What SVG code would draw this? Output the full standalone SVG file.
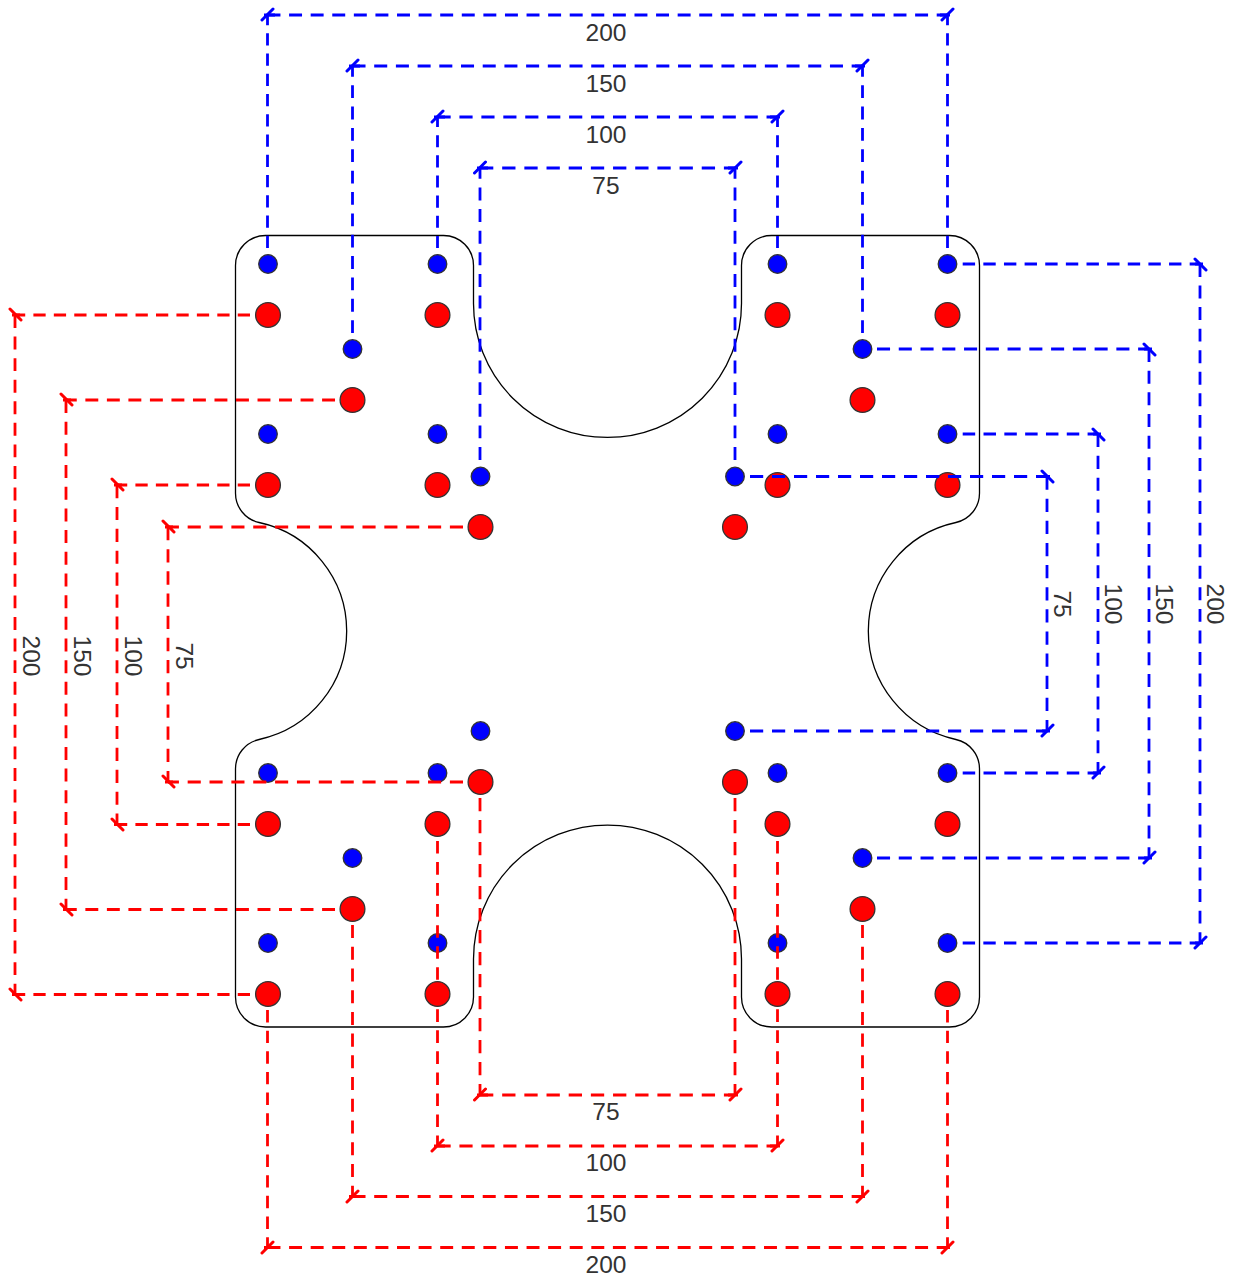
<svg xmlns="http://www.w3.org/2000/svg" width="1236" height="1277" viewBox="0 0 1236 1277">
<style>
.o{fill:none;stroke:#000;stroke-width:1.3}
.h{stroke:#333;stroke-width:1.3}
.b{fill:#00f}.r{fill:#f00}
.d{fill:none;stroke-width:2.8;stroke-dasharray:.6 .4}
.t{fill:none;stroke-width:3;stroke-linecap:round}
.s{fill:none;stroke-width:2.8}
.bl{stroke:#00f}.rd{stroke:#f00}
text{font-family:"Liberation Sans",Arial,sans-serif;font-size:24.5px;fill:#333;text-anchor:middle;dominant-baseline:central}
</style>
<rect width="1236" height="1277" fill="#fff"/>
<g id="outline"><path class="o" d="M235.5 265.5A30 30 0 0 1 265.5 235.5H443.5A30 30 0 0 1 473.5 265.5V303.5A134 134 0 0 0 741.5 303.5V265.5A30 30 0 0 1 771.5 235.5H949.5A30 30 0 0 1 979.5 265.5V493.2A30 30 0 0 1 955.9 522.5A111 111 0 0 0 955.9 739.5A30 30 0 0 1 979.5 768.8V997A30 30 0 0 1 949.5 1027H771.5A30 30 0 0 1 741.5 997V959A134 134 0 0 0 473.5 959V997A30 30 0 0 1 443.5 1027H265.5A30 30 0 0 1 235.5 997V768.8A30 30 0 0 1 259.1 739.5A111 111 0 0 0 259.1 522.5A30 30 0 0 1 235.5 493.2Z"/></g>
<g id="holes-blue">
<circle class="h b" cx="268" cy="264" r="9.3"/><circle class="h b" cx="437.5" cy="264" r="9.3"/><circle class="h b" cx="777.5" cy="264" r="9.3"/><circle class="h b" cx="947.5" cy="264" r="9.3"/>
<circle class="h b" cx="352.5" cy="349" r="9.3"/><circle class="h b" cx="862.5" cy="349" r="9.3"/>
<circle class="h b" cx="268" cy="434" r="9.3"/><circle class="h b" cx="437.5" cy="434" r="9.3"/><circle class="h b" cx="777.5" cy="434" r="9.3"/><circle class="h b" cx="947.5" cy="434" r="9.3"/>
<circle class="h b" cx="480.5" cy="476.5" r="9.3"/><circle class="h b" cx="735" cy="476.5" r="9.3"/>
<circle class="h b" cx="480.5" cy="731" r="9.3"/><circle class="h b" cx="735" cy="731" r="9.3"/>
<circle class="h b" cx="268" cy="773" r="9.3"/><circle class="h b" cx="437.5" cy="773" r="9.3"/><circle class="h b" cx="777.5" cy="773" r="9.3"/><circle class="h b" cx="947.5" cy="773" r="9.3"/>
<circle class="h b" cx="352.5" cy="858" r="9.3"/><circle class="h b" cx="862.5" cy="858" r="9.3"/>
<circle class="h b" cx="268" cy="943" r="9.3"/><circle class="h b" cx="437.5" cy="943" r="9.3"/><circle class="h b" cx="777.5" cy="943" r="9.3"/><circle class="h b" cx="947.5" cy="943" r="9.3"/>
</g>
<g id="holes-red">
<circle class="h r" cx="268" cy="315" r="12.4"/><circle class="h r" cx="437.5" cy="315" r="12.4"/><circle class="h r" cx="777.5" cy="315" r="12.4"/><circle class="h r" cx="947.5" cy="315" r="12.4"/>
<circle class="h r" cx="352.5" cy="400" r="12.4"/><circle class="h r" cx="862.5" cy="400" r="12.4"/>
<circle class="h r" cx="268" cy="485" r="12.4"/><circle class="h r" cx="437.5" cy="485" r="12.4"/><circle class="h r" cx="777.5" cy="485" r="12.4"/><circle class="h r" cx="947.5" cy="485" r="12.4"/>
<circle class="h r" cx="480.5" cy="527" r="12.4"/><circle class="h r" cx="735" cy="527" r="12.4"/>
<circle class="h r" cx="480.5" cy="782" r="12.4"/><circle class="h r" cx="735" cy="782" r="12.4"/>
<circle class="h r" cx="268" cy="824" r="12.4"/><circle class="h r" cx="437.5" cy="824" r="12.4"/><circle class="h r" cx="777.5" cy="824" r="12.4"/><circle class="h r" cx="947.5" cy="824" r="12.4"/>
<circle class="h r" cx="352.5" cy="909" r="12.4"/><circle class="h r" cx="862.5" cy="909" r="12.4"/>
<circle class="h r" cx="268" cy="994" r="12.4"/><circle class="h r" cx="437.5" cy="994" r="12.4"/><circle class="h r" cx="777.5" cy="994" r="12.4"/><circle class="h r" cx="947.5" cy="994" r="12.4"/>
</g>
<g id="connectors">
<g class="bl">
<path class="d bl" pathLength="11.5" d="M267.500 248V15"/><path class="d bl" pathLength="12.5" d="M352.500 333V66"/><path class="d bl" pathLength="6.5" d="M437.500 248V117"/><path class="d bl" pathLength="13.5" d="M480 460V168"/>
<path class="d bl" pathLength="13.5" d="M735 460V168"/><path class="d bl" pathLength="6.5" d="M777.500 248V117"/><path class="d bl" pathLength="12.5" d="M862.500 333V66"/><path class="d bl" pathLength="11.5" d="M947.500 248V15"/>
<path class="d bl" pathLength="31.5" d="M267.500 15H947.500"/><path class="d bl" pathLength="23.5" d="M352.500 66H862.500"/><path class="d bl" pathLength="15.5" d="M437.500 117H777.500"/><path class="d bl" pathLength="11.5" d="M480 168H735"/>
<path class="d bl" pathLength="11.5" d="M962.700 264H1200"/><path class="d bl" pathLength="12.5" d="M877 349H1149"/><path class="d bl" pathLength="6.500" d="M962.700 434H1098"/><path class="d bl" pathLength="13.5" d="M750 476.500H1047"/>
<path class="d bl" pathLength="13.5" d="M750 731H1047"/><path class="d bl" pathLength="6.500" d="M962.700 773H1098"/><path class="d bl" pathLength="12.5" d="M877 858H1149"/><path class="d bl" pathLength="11.5" d="M962.700 943H1200"/>
<path class="d bl" pathLength="31.5" d="M1200 264V943"/><path class="d bl" pathLength="23.5" d="M1149 349V858"/><path class="d bl" pathLength="15.5" d="M1098 434V773"/><path class="d bl" pathLength="11.5" d="M1047 476.500V731"/>
</g>
<g class="rd">
<path class="d rd" pathLength="11.5" d="M250 315H15"/><path class="d rd" pathLength="12.5" d="M335 400H66"/><path class="d rd" pathLength="6.5" d="M250 485H117"/><path class="d rd" pathLength="13.5" d="M463 527H168"/>
<path class="d rd" pathLength="13.5" d="M463 782H168"/><path class="d rd" pathLength="6.5" d="M250 824.500H117"/><path class="d rd" pathLength="12.5" d="M335 909.500H66"/><path class="d rd" pathLength="11.5" d="M250 994.500H15"/>
<path class="d rd" pathLength="31.5" d="M15 315V994.500"/><path class="d rd" pathLength="23.5" d="M66 400V909.500"/><path class="d rd" pathLength="15.5" d="M117 485V824.500"/><path class="d rd" pathLength="11.5" d="M168 527V782"/>
<path class="d rd" pathLength="11.5" d="M267.500 1010V1247.500"/><path class="d rd" pathLength="12.5" d="M352.500 925V1196.500"/><path class="d rd" pathLength="14.5" d="M437.500 841V1146"/><path class="d rd" pathLength="13.5" d="M480 798V1095"/>
<path class="d rd" pathLength="13.5" d="M735 798V1095"/><path class="d rd" pathLength="14.5" d="M777.500 841V1146"/><path class="d rd" pathLength="12.5" d="M862.500 925V1196.500"/><path class="d rd" pathLength="11.5" d="M947.500 1010V1247.500"/>
<path class="d rd" pathLength="31.5" d="M267.500 1247.500H947.500"/><path class="d rd" pathLength="23.5" d="M352.500 1196.500H862.500"/><path class="d rd" pathLength="15.5" d="M437.500 1146H777.500"/><path class="d rd" pathLength="11.5" d="M480 1095H735"/>
</g>
<path class="t bl" d="M262 20L273 9M347 71L358 60M432 122L443 111M474.500 173L485.500 162M730 173L741 162M772 122L783 111M857 71L868 60M942 20L953 9M1195 259L1206 270M1144 344L1155 355M1093 429L1104 440M1042 471L1053 482M1042 736L1053 725M1093 778L1104 767M1144 863L1155 852M1195 948L1206 937"/>
<path class="t rd" d="M10 309L21 320M61 394L72 405M112 479L123 490M163 521L174 532M163 776L174 787M112 819L123 830M61 904L72 915M10 989L21 1000M262 1253L273 1242M347 1202L358 1191M432 1151L443 1140M474.500 1100L485.500 1089M730 1100L741 1089M772 1151L783 1140M857 1202L868 1191M942 1253L953 1242"/>
<path class="s bl" d="M1195 264H1203M1144 349H1152M1093 434H1101M1042 476.500H1050M1042 731H1050M1093 773H1101M1144 858H1152M1195 943H1203M940 15H950M855 66H865M770 117H780M728 168H738M264 15H275M349 66H360M434 117H445M477 168H488"/>
<path class="s rd" d="M12 994.500H20M63 909.500H71M114 824.500H122M165 782H173M12 315H20M63 400H71M114 485H122M165 527H173M940 1247.500H950M855 1196.500H865M770 1146H780M728 1095H738M264 1247.500H275M349 1196.500H360M434 1146H445M477 1095H488"/>
</g>
<g id="labels">
<text x="606" y="32">200</text><text x="606" y="83">150</text><text x="606" y="134">100</text><text x="606" y="185">75</text>
<text x="606" y="1111">75</text><text x="606" y="1162">100</text><text x="606" y="1213">150</text><text x="606" y="1264">200</text>
<text transform="translate(31 656) rotate(90)">200</text><text transform="translate(82 656) rotate(90)">150</text><text transform="translate(133 656) rotate(90)">100</text><text transform="translate(184 656) rotate(90)">75</text>
<text transform="translate(1062 604) rotate(90)">75</text><text transform="translate(1113 604) rotate(90)">100</text><text transform="translate(1164 604) rotate(90)">150</text><text transform="translate(1215 604) rotate(90)">200</text>
</g>
</svg>
